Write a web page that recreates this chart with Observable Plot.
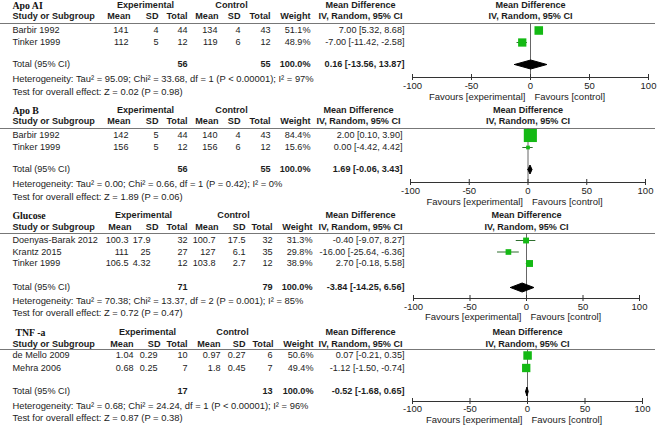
<!DOCTYPE html>
<html><head><meta charset="utf-8">
<script src="https://cdn.jsdelivr.net/npm/d3@7"></script>
<script src="https://cdn.jsdelivr.net/npm/@observablehq/plot@0.6"></script>
<style>
html,body{margin:0;padding:0;background:#fff;}
#chart{width:658px;}
#chart svg{display:block;}
</style></head><body><div id="chart"></div>
<script>
// ---------- data ----------
const panelNames = ["Apo AI", "Apo B", "Glucose", "TNF -a"];
const studyPanel = [0, 0, 1, 1, 2, 2, 2, 3, 3];
const studyName = ["Barbir 1992", "Tinker 1999", "Barbir 1992", "Tinker 1999", "Doenyas-Barak 2012", "Krantz 2015", "Tinker 1999", "de Mello 2009", "Mehra 2006"];
const expMean = [141, 112, 142, 156, 100.3, 111, 106.5, 1.04, 0.68];
const expSD = [4, 5, 5, 5, 17.9, 25, 4.32, 0.29, 0.25];
const expN = [44, 12, 44, 12, 32, 27, 12, 10, 7];
const ctlMean = [134, 119, 140, 156, 100.7, 127, 103.8, 0.97, 1.8];
const ctlSD = [4, 6, 4, 6, 17.5, 6.1, 2.7, 0.27, 0.45];
const ctlN = [43, 12, 43, 12, 32, 35, 12, 6, 7];
const weight = [51.1, 48.9, 84.4, 15.6, 31.3, 29.8, 38.9, 50.6, 49.4];
const md = [7.00, -7.00, 2.00, 0.00, -0.40, -16.00, 2.70, 0.07, -1.12];
const ciLow = [5.32, -11.42, 0.10, -4.42, -9.07, -25.64, -0.18, -0.21, -1.50];
const ciHigh = [8.68, -2.58, 3.90, 4.42, 8.27, -6.36, 5.58, 0.35, -0.74];
const totalExpN = [56, 56, 71, 17];
const totalCtlN = [55, 55, 79, 13];
const totalMD = [0.16, 1.69, -3.84, -0.52];
const totalLow = [-13.56, -0.06, -14.25, -1.68];
const totalHigh = [13.87, 3.43, 6.56, 0.65];
const tau2 = ["95.09", "0.00", "70.38", "0.68"];
const chi2 = ["33.68", "0.66", "13.37", "24.24"];
const dfHet = [1, 1, 2, 1];
const pHet = ["< 0.00001", "= 0.42", "= 0.001", "< 0.00001"];
const i2 = [97, 0, 85, 96];
const zValue = ["0.02", "1.89", "0.72", "0.87"];
const pZ = ["0.98", "0.06", "0.47", "0.38"];
const axisTicks = [-100, -50, 0, 50, 100];
const colHeaders = ["Mean", "SD", "Total", "Mean", "SD", "Total", "Weight"];

// ---------- layout (pixels, panel-local) ----------
const layouts = [
  {h:105, titleX:12, title:5, head:16, rule:23, row0:30, pitch:12, total:64, het:78, test:91, axis:77, tickLbl:85, fav:96,
   val:[128,158,187,217,240,270,310], hdr:[130,158,187,218,240,270,310], ci:404, exp:145, ctl:231, md:360, xr:[412,648]},
  {h:105, titleX:12, title:5, head:16, rule:23, row0:30, pitch:12, total:64, het:78, test:91, axis:77, tickLbl:85, fav:96,
   val:[128,158,187,217,240,270,310], hdr:[130,158,187,218,240,270,310], ci:402, exp:145, ctl:231, md:358, xr:[410,645]},
  {h:110, titleX:12, title:5, head:17, rule:23, row0:30, pitch:11.5, total:77, het:90, test:102, axis:88, tickLbl:96.5, fav:106.5,
   val:[128,150,187,215,245,272,312], hdr:[131,158,187,218,245,272,312], ci:404, exp:143, ctl:233, md:360, xr:[413,639]},
  {h:107, titleX:15, title:12, head:24, rule:29, row0:35, pitch:12.5, total:71, het:85, test:97, axis:81, tickLbl:88.5, fav:99.5,
   val:[133,157,187,220,245,272,313], hdr:[133,160,187,220,245,273,313], ci:404, exp:147, ctl:232, md:360, xr:[412,642]}
];

const FONT = "Liberation Sans, Arial, Helvetica, sans-serif";
const SERIF = "Liberation Serif, Times New Roman, serif";
const TXT = "#1c1c1c";
const GREEN = "#14b914";
const CI_COLOR = "#2f6f2f";
const FS = 9.1;     // table text
const FS2 = 9.5;    // forest axis text
const f2 = v => v.toFixed(2);

const chart = document.getElementById("chart");
panelNames.forEach((name, p) => {
  const L = layouts[p];
  const idx = d3.range(studyName.length).filter(i => studyPanel[i] === p);
  const rows = idx.map((i, k) => ({i, y: L.row0 + k * L.pitch}));
  const t = {fontSize: FS, fontFamily: FONT, fill: TXT, frameAnchor: "left"};
  const tb = {...t, fontWeight: "bold"};
  const cols = [expMean, expSD, expN, ctlMean, ctlSD, ctlN];
  const marks = [];
  // header rule
  marks.push(Plot.ruleY([L.rule], {stroke: "#777", strokeWidth: 1}));
  // title
  marks.push(Plot.text([name], {fontFamily: SERIF, fontWeight: "bold", fontSize: 9.8, fill: "#111", frameAnchor: "left",
    dx: L.titleX, y: L.title, textAnchor: "start", text: d => d, ariaLabel: "panel-title"}));
  marks.push(Plot.text(["Experimental"], {...tb, dx: L.exp, y: L.title, text: d => d, textAnchor: "middle"}));
  marks.push(Plot.text(["Control"], {...tb, dx: L.ctl, y: L.title, text: d => d, textAnchor: "middle"}));
  marks.push(Plot.text(["Mean Difference"], {...tb, dx: L.md, y: L.title, text: d => d, textAnchor: "middle"}));
  marks.push(Plot.text(["Mean Difference"], {...tb, x: 0, y: L.title, text: d => d, textAnchor: "middle"}));
  // column headers
  marks.push(Plot.text(["Study or Subgroup"], {...tb, dx: 12, y: L.head, text: d => d, textAnchor: "start"}));
  colHeaders.forEach((h, c) => marks.push(Plot.text([h], {...tb, dx: L.hdr[c], y: L.head, text: d => d, textAnchor: "end"})));
  marks.push(Plot.text(["IV, Random, 95% CI"], {...tb, dx: L.md, y: L.head, text: d => d, textAnchor: "middle"}));
  marks.push(Plot.text(["IV, Random, 95% CI"], {...tb, x: 0, y: L.head, text: d => d, textAnchor: "middle"}));
  // study rows
  marks.push(Plot.text(rows, {...t, dx: 12, y: "y", text: d => studyName[d.i], textAnchor: "start"}));
  cols.forEach((arr, c) => marks.push(Plot.text(rows, {...t, dx: L.val[c], y: "y", text: d => String(arr[d.i]), textAnchor: "end"})));
  marks.push(Plot.text(rows, {...t, dx: L.val[6], y: "y", text: d => weight[d.i].toFixed(1) + "%", textAnchor: "end"}));
  marks.push(Plot.text(rows, {...t, dx: L.ci, y: "y", text: d => `${f2(md[d.i])} [${f2(ciLow[d.i])}, ${f2(ciHigh[d.i])}]`, textAnchor: "end"}));
  // total row
  const wSum = d3.sum(idx, i => weight[i]);
  marks.push(Plot.text(["Total (95% CI)"], {...t, dx: 12, y: L.total, text: d => d, textAnchor: "start"}));
  marks.push(Plot.text([totalExpN[p]], {...tb, dx: L.val[2], y: L.total, text: d => String(d), textAnchor: "end"}));
  marks.push(Plot.text([totalCtlN[p]], {...tb, dx: L.val[5], y: L.total, text: d => String(d), textAnchor: "end"}));
  marks.push(Plot.text([wSum], {...tb, dx: L.val[6], y: L.total, text: d => d.toFixed(1) + "%", textAnchor: "end"}));
  marks.push(Plot.text([p], {...tb, dx: L.ci, y: L.total, text: q => `${f2(totalMD[q])} [${f2(totalLow[q])}, ${f2(totalHigh[q])}]`, textAnchor: "end"}));
  marks.push(Plot.text([p], {...t, fontSize: 9.4, dx: 12, y: L.het, textAnchor: "start",
    text: q => `Heterogeneity: Tau\u00B2 = ${tau2[q]}; Chi\u00B2 = ${chi2[q]}, df = ${dfHet[q]} (P ${pHet[q]}); I\u00B2 = ${i2[q]}%`}));
  marks.push(Plot.text([p], {...t, fontSize: 9.4, dx: 12, y: L.test, textAnchor: "start",
    text: q => `Test for overall effect: Z = ${zValue[q]} (P = ${pZ[q]})`}));
  // forest: zero line
  marks.push(Plot.ruleX([0], {y1: L.rule, y2: L.axis, stroke: "#666", strokeWidth: 1}));
  // CI lines and squares
  marks.push(Plot.ruleY(rows, {y: "y", x1: d => ciLow[d.i], x2: d => ciHigh[d.i], stroke: CI_COLOR, strokeWidth: 1}));
  marks.push(Plot.dot(rows, {x: d => md[d.i], y: "y", r: d => weight[d.i], symbol: "square", fill: GREEN, stroke: "none"}));
  // diamond
  const Y = L.total, hh = 4.5;
  const dia = [
    {x: totalLow[p], y: Y}, {x: totalMD[p], y: Y - hh}, {x: totalHigh[p], y: Y}, {x: totalMD[p], y: Y + hh}, {x: totalLow[p], y: Y}
  ];
  marks.push(Plot.line(dia, {x: "x", y: "y", fill: "black", stroke: "black", strokeWidth: 1}));
  // axis
  marks.push(Plot.ruleY([L.axis], {x1: d3.min(axisTicks), x2: d3.max(axisTicks), stroke: "#333", strokeWidth: 1}));
  marks.push(Plot.ruleX(axisTicks, {x: d => d, y1: L.axis - 3, y2: L.axis + 3, stroke: "#333", strokeWidth: 1}));
  marks.push(Plot.text(axisTicks, {fontSize: FS2, fontFamily: FONT, fill: TXT, x: d => d, y: L.tickLbl, text: d => String(d), textAnchor: "middle"}));
  marks.push(Plot.text(["Favours [experimental]"], {fontSize: FS2, fontFamily: FONT, fill: TXT, x: 0, y: L.fav, dx: -5, text: d => d, textAnchor: "end"}));
  marks.push(Plot.text(["Favours [control]"], {fontSize: FS2, fontFamily: FONT, fill: TXT, x: 0, y: L.fav, dx: 4, text: d => d, textAnchor: "start"}));

  const svg = Plot.plot({
    width: 658, height: L.h,
    marginTop: 0, marginBottom: 0, marginLeft: 0, marginRight: 3,
    x: {domain: [-100, 100], range: L.xr, axis: null},
    y: {domain: [0, L.h], range: [0, L.h], axis: null},
    r: {type: "linear", domain: [0, 100], range: [0.9, 8.6]},
    style: {background: "white", overflow: "visible"},
    marks
  });
  svg.querySelectorAll('[aria-label="panel-title"] text').forEach(el => {
    el.style.textDecoration = "underline";
    el.setAttribute("text-decoration", "underline");
  });
  chart.appendChild(svg);
});
</script>
</body></html>
